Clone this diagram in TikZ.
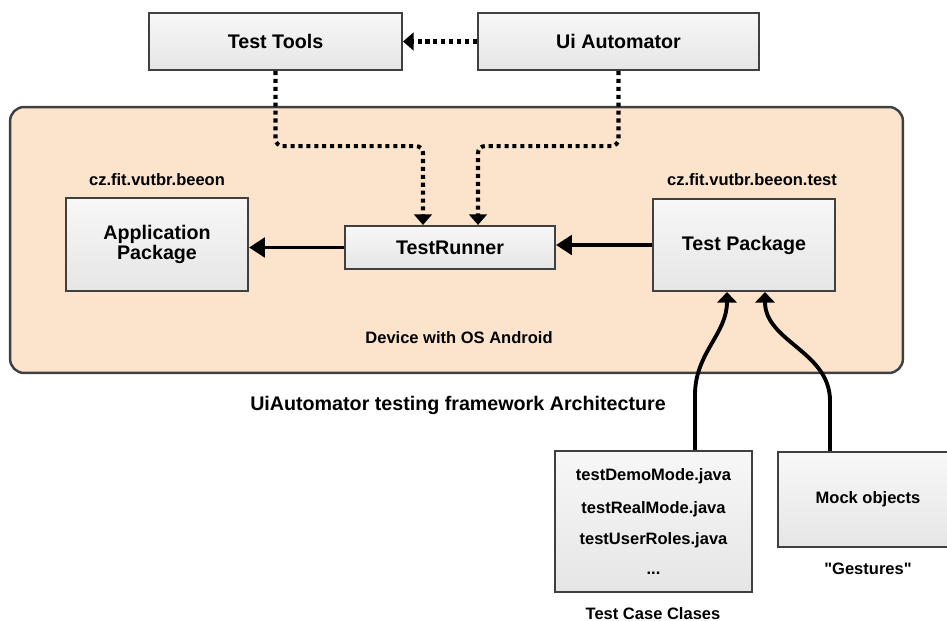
\documentclass[tikz,border=0pt]{standalone}
\usepackage{fontspec}
\setmainfont{Liberation Sans}
\newfontfamily\rawsans[Ligatures=TeXOff]{Liberation Sans}
\usetikzlibrary{arrows.meta}
\definecolor{devicefill}{RGB}{252,228,204}
\definecolor{boxline}{RGB}{64,64,64}
\tikzset{every node/.append style={font=\bfseries\fontsize{11.2}{11.6}\selectfont}}

\begin{document}
\begin{tikzpicture}[x=0.02cm, y=-0.02cm,
    box/.style={draw=boxline, line width=1.2pt, top color=gray!6, bottom color=gray!20, inner sep=0pt, align=center},
    device/.style={draw=boxline, fill=devicefill, line width=1.4pt, rounded corners=8pt, inner sep=0pt},
    small/.style={font=\bfseries\fontsize{9.4}{17.6}\selectfont},
    dotarrow/.style={line width=2.3pt, dash pattern=on 2.3pt off 2.2pt, rounded corners=4pt, -{Triangle[width=10pt,length=6pt]}},
    solidarrow/.style={line width=2.2pt, -{Triangle[width=11pt,length=9pt]}},
    curvearrow/.style={line width=2.2pt, -{Triangle[width=11pt,length=6pt]}}]
    \clip (0,0) rectangle (947,621);
    \node[device, minimum width=17.86cm, minimum height=5.32cm] (device) at (456.5,240) {};
    \node[box, minimum width=5.06cm, minimum height=1.14cm] (tools) at (275.5,41.5) {Test Tools};
    \node[box, minimum width=5.62cm, minimum height=1.14cm] (uiauto) at (618.5,41.5) {Ui Automator};
    \node[box, minimum width=3.64cm, minimum height=1.86cm] (app) at (157,244.5) {Application\\Package};
    \node[box, minimum width=4.2cm, minimum height=0.86cm] (runner) at (450,247.5) {TestRunner};
    \node[box, minimum width=3.64cm, minimum height=1.84cm] (testpkg) at (744,245) {Test Package};
    \node[box, small, minimum width=3.94cm, minimum height=2.82cm] (cases) at (653.5,521.5)
        {testDemoMode.java\\[0.8pt]testRealMode.java\\testUserRoles.java\\[-0.6pt]...};
    \node[box, minimum width=3.6cm, minimum height=1.9cm, small] (mock) at (868,499.5) {Mock objects};
    \node[small] (applbl) at (157,180) {cz.fit.vutbr.beeon};
    \node[small] (pkglbl) at (752,180) {cz.fit.vutbr.beeon.test};
    \node[small] (devlbl) at (459,338) {Device with OS Android};
    \node (title) at (458,405) {UiAutomator testing framework Architecture};
    \node[small] (caselbl) at (653,614) {Test Case Clases};
    \node[small] (mocklbl) at (868,569) {\rawsans\bfseries "Gestures"};

    \draw[dotarrow] (uiauto.west) -- (tools.east);
    \draw[dotarrow] (tools.south) -- ++(0,75) -| ([xshift=-0.54cm]runner.north);
    \draw[dotarrow] (uiauto.south) -- ++(0,75) -| ([xshift=0.56cm]runner.north);
    \draw[solidarrow] (runner.west) -- (runner.west -| app.east);
    \draw[solidarrow] (testpkg.west) -- (testpkg.west -| runner.east);
    \draw[curvearrow] ([xshift=0.83cm]cases.north) -- ++(0,-55) to[out=90, in=-90] ([xshift=-0.34cm]testpkg.south);
    \draw[curvearrow] ([xshift=-0.76cm]mock.north) -- ++(0,-50) to[out=90, in=-90] ([xshift=0.42cm]testpkg.south);
\end{tikzpicture}
\end{document}
